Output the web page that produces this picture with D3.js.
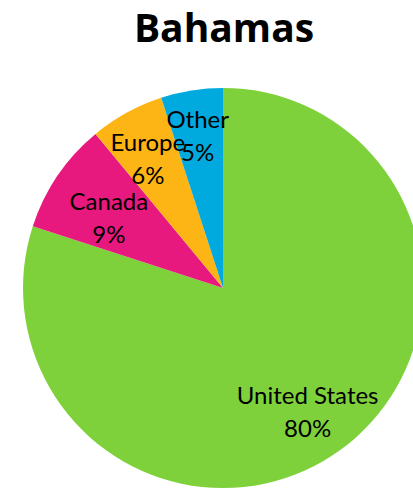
<!DOCTYPE html>
<html><head><meta charset="utf-8">
<script src="https://cdn.jsdelivr.net/npm/d3@7"></script>
<style>html,body{margin:0;padding:0;background:#fff;overflow:hidden}</style>
</head><body>
<svg id="c" width="413" height="490"></svg>
<script>
const categories = ["United States", "Canada", "Europe", "Other"];
const values = [80, 9, 6, 5];
const colors = ["#7ED13B", "#E8197E", "#FDB515", "#00A9DE"];
const title = "Bahamas";

const svg = d3.select("#c");
const cx = 223, cy = 288, R = 200;
const font = "Lato, 'Open Sans', sans-serif";

svg.append("text").attr("x", 224).attr("y", 42).attr("text-anchor", "middle")
  .attr("font-family", "'Open Sans', sans-serif").attr("font-weight", "bold").attr("font-size", 39)
  .attr("fill", "#000").text(title);

const pie = d3.pie().sort(null).value(d => d)(values);
const arc = d3.arc().innerRadius(0).outerRadius(R);
const g = svg.append("g").attr("transform", `translate(${cx},${cy})`);
g.selectAll("path").data(pie).join("path").attr("d", arc).attr("fill", (d, i) => colors[i]);

const labelR = [144, 138, 156, 162];
const lab = g.selectAll("text.l").data(pie).join("text").attr("class", "l")
  .attr("text-anchor", "middle").attr("font-family", font).attr("font-size", 24).attr("fill", "#000")
  .attr("transform", (d, i) => {
    const a = (d.startAngle + d.endAngle) / 2, r = labelR[i];
    return `translate(${Math.sin(a) * r},${-Math.cos(a) * r})`;
  });
lab.append("tspan").attr("x", 0).attr("y", 0).text((d, i) => categories[i]);
lab.append("tspan").attr("x", 0).attr("y", 33).text(d => d.value + "%");
</script>
</body></html>
